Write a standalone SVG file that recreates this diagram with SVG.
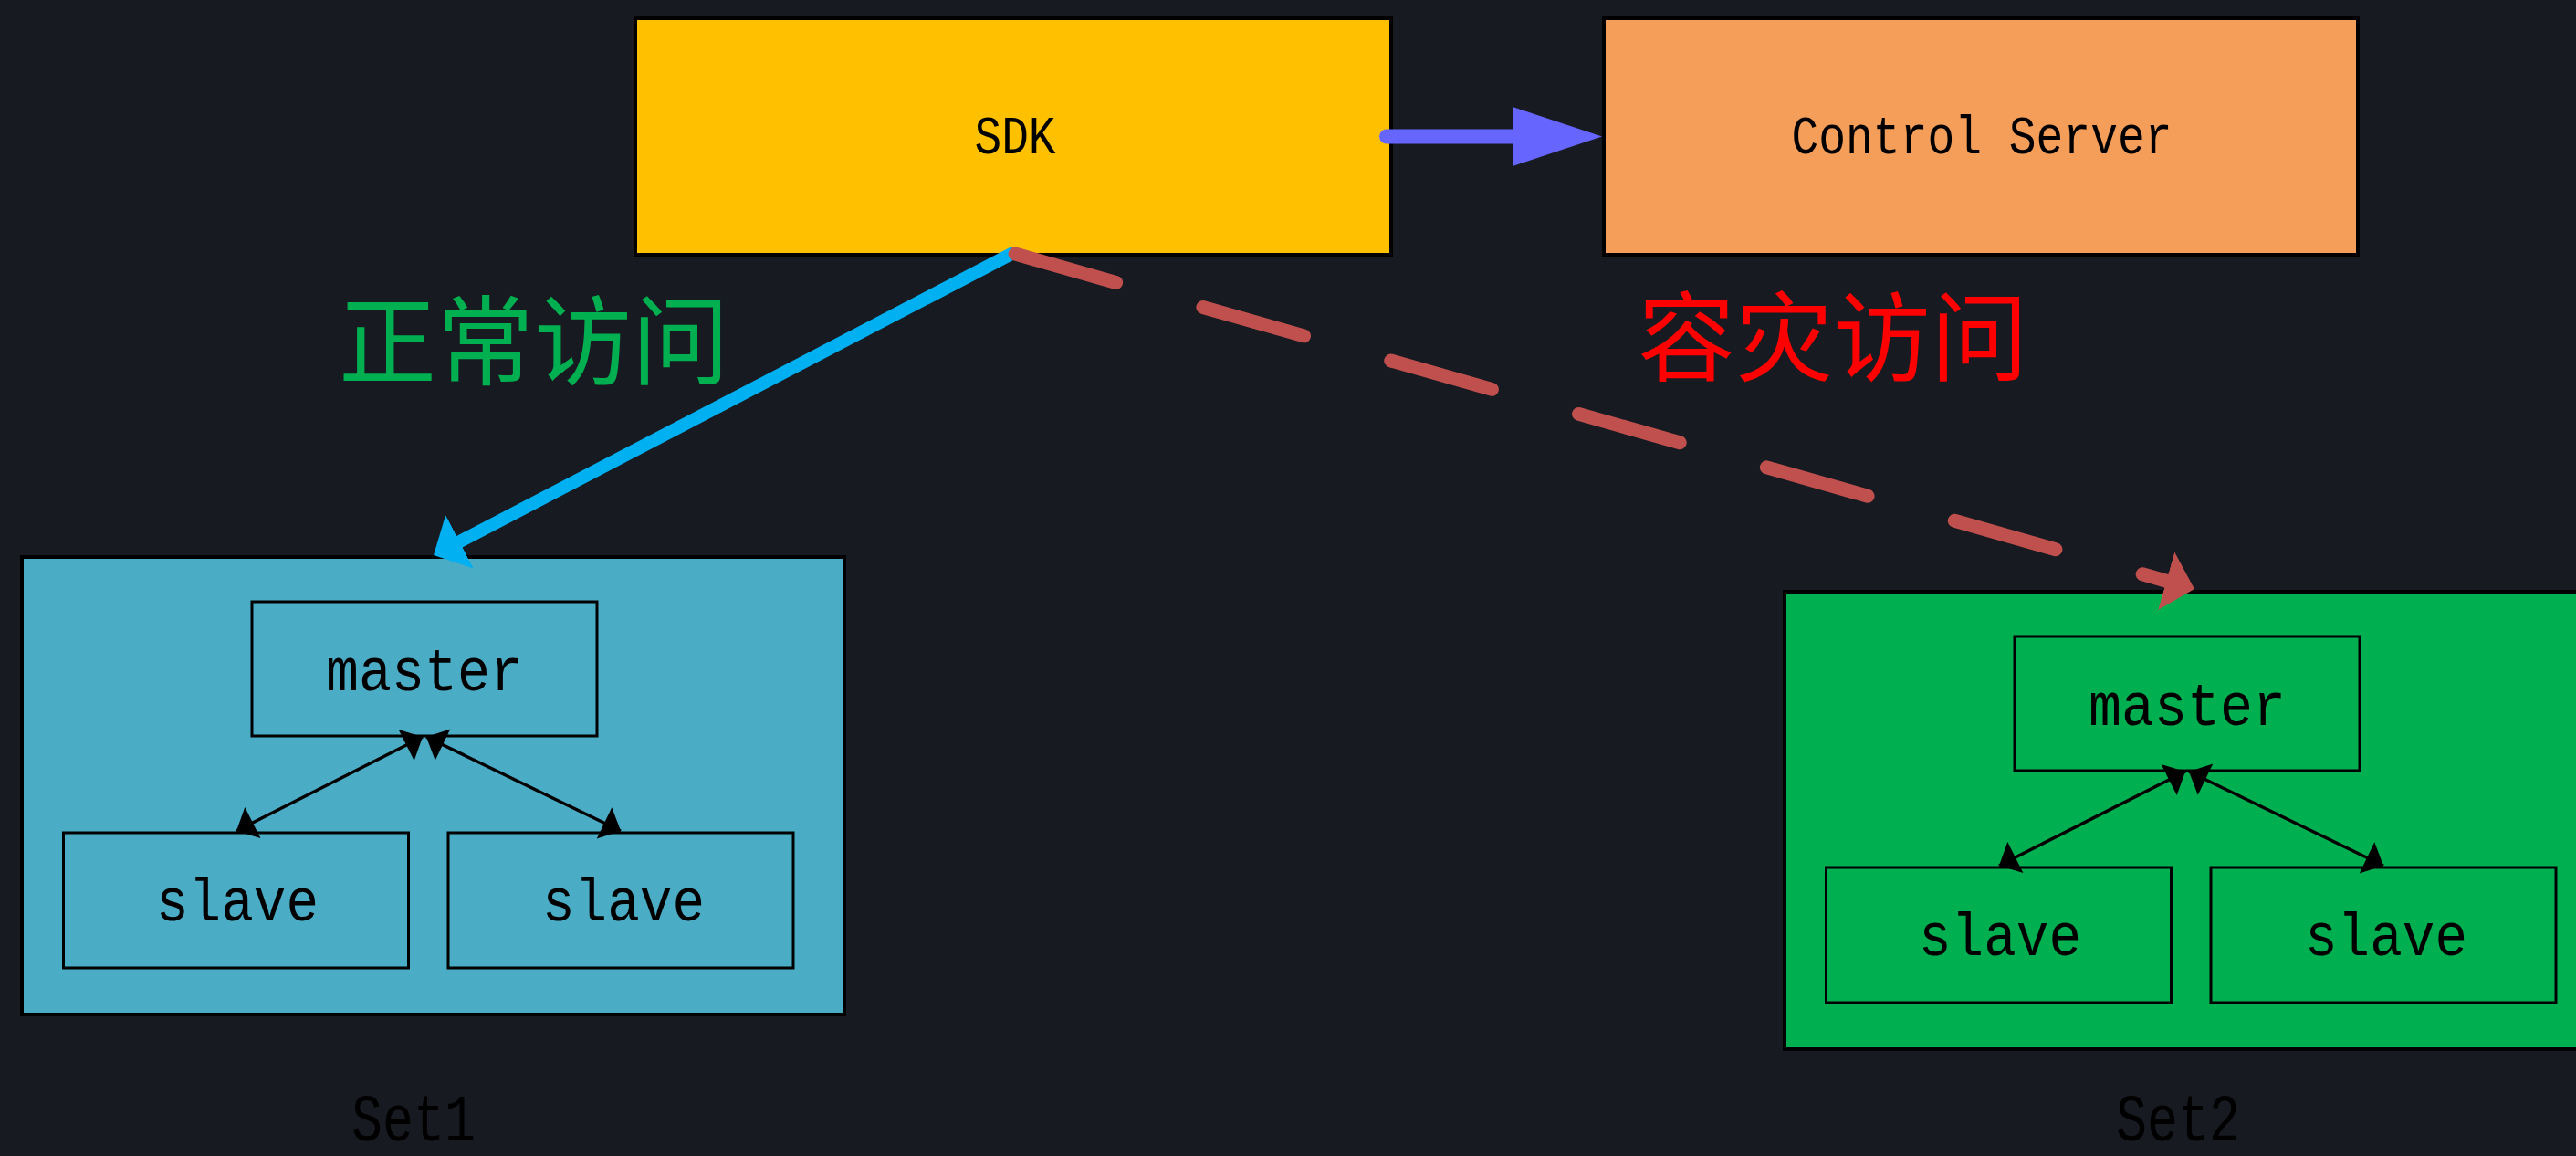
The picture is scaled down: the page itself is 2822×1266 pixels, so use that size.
<svg xmlns="http://www.w3.org/2000/svg" width="2822" height="1266" viewBox="0 0 2822 1266">
  <defs>
    <style>
      .box { stroke: #000; stroke-width: 4; }
      .inner { stroke: #000; stroke-width: 3; }
      .lbl { font-family: "Liberation Mono", "DejaVu Sans Mono", monospace; fill: #000; text-anchor: middle; }
      .big { font-size: 60px; }
      .mid { font-size: 66px; }
      .set { font-size: 72px; }
      .cjk { font-family: "Noto Sans CJK SC", "Noto Sans", sans-serif; font-size: 107px; text-anchor: middle; }
      .rep { stroke: #000; stroke-width: 3.5; fill: none; marker-start: url(#tri-small); marker-end: url(#tri-small); }
    </style>
    <marker id="tri-blue" markerUnits="userSpaceOnUse" viewBox="0 -34 33 68" refX="0" refY="0" markerWidth="33" markerHeight="68" orient="auto">
      <path d="M0,-33 L32,0 L0,33 Z" fill="#00B0F0"/>
    </marker>
    <marker id="tri-red" markerUnits="userSpaceOnUse" viewBox="0 -34 33 68" refX="0" refY="0" markerWidth="33" markerHeight="68" orient="auto">
      <path d="M0,-33 L32,0 L0,33 Z" fill="#C0504D"/>
    </marker>
    <marker id="tri-small" markerUnits="userSpaceOnUse" viewBox="-21 -21 22 42" refX="0" refY="0" markerWidth="22" markerHeight="42" orient="auto-start-reverse">
      <path d="M0,0 L-20,-19 L-20,19 Z" fill="#000"/>
    </marker>
  </defs>

  <rect x="0" y="0" width="2822" height="1266" fill="#171A21"/>

  <g id="node-sdk">
    <rect class="box" x="696" y="20" width="828" height="259" fill="#FFC000"/>
    <text class="lbl big" x="1112" y="168" textLength="89" lengthAdjust="spacingAndGlyphs">SDK</text>
  </g>

  <g id="node-control-server">
    <rect class="box" x="1757" y="20" width="826" height="259" fill="#F59E5A"/>
    <text class="lbl big" x="2171" y="168" textLength="417" lengthAdjust="spacingAndGlyphs">Control Server</text>
  </g>

  <g id="node-set1">
    <rect class="box" x="24" y="610" width="901" height="501" fill="#4BACC6"/>
    <g id="set1-master">
      <rect class="inner" x="276" y="659" width="378" height="147" fill="#4BACC6"/>
      <text class="lbl mid" x="465" y="756" textLength="216" lengthAdjust="spacingAndGlyphs">master</text>
    </g>
    <g id="set1-slave1">
      <rect class="inner" x="69.5" y="912" width="378" height="148" fill="#4BACC6"/>
      <text class="lbl mid" x="260" y="1008" textLength="178" lengthAdjust="spacingAndGlyphs">slave</text>
    </g>
    <g id="set1-slave2">
      <rect class="inner" x="491" y="912" width="378" height="148" fill="#4BACC6"/>
      <text class="lbl mid" x="683" y="1008" textLength="178" lengthAdjust="spacingAndGlyphs">slave</text>
    </g>
    <text class="lbl set" x="453" y="1249" textLength="136" lengthAdjust="spacingAndGlyphs">Set1</text>
  </g>

  <g id="node-set2">
    <rect class="box" x="1955" y="648" width="901" height="501" fill="#00B050"/>
    <g id="set2-master">
      <rect class="inner" x="2207" y="697" width="378" height="147" fill="#00B050"/>
      <text class="lbl mid" x="2396" y="794" textLength="216" lengthAdjust="spacingAndGlyphs">master</text>
    </g>
    <g id="set2-slave1">
      <rect class="inner" x="2000.5" y="950" width="378" height="148" fill="#00B050"/>
      <text class="lbl mid" x="2191" y="1046" textLength="178" lengthAdjust="spacingAndGlyphs">slave</text>
    </g>
    <g id="set2-slave2">
      <rect class="inner" x="2422" y="950" width="378" height="148" fill="#00B050"/>
      <text class="lbl mid" x="2614" y="1046" textLength="178" lengthAdjust="spacingAndGlyphs">slave</text>
    </g>
    <text class="lbl set" x="2386" y="1249" textLength="136" lengthAdjust="spacingAndGlyphs">Set2</text>
  </g>

  <g id="labels">
    <text class="cjk" x="585" y="413" fill="#00B050">正常访问</text>
    <text class="cjk" x="2008" y="409" fill="#FF0000">容灾访问</text>
  </g>

  <g id="connectors">
    <line x1="1519" y1="149.5" x2="1660" y2="149.5" stroke="#6666FF" stroke-width="16" stroke-linecap="round"/>
    <polygon points="1657,117 1755,149.5 1657,182" fill="#6666FF"/>
    <line x1="1110" y1="277" x2="503.4" y2="593.2" stroke="#00B0F0" stroke-width="14" stroke-linecap="round" marker-end="url(#tri-blue)"/>
    <line x1="1112" y1="278" x2="2373.2" y2="636.2" stroke="#C0504D" stroke-width="15" stroke-linecap="round" stroke-dasharray="115 99" marker-end="url(#tri-red)"/>
    <line class="rep" x1="259" y1="910" x2="463" y2="807"/>
    <line class="rep" x1="467" y1="807" x2="680" y2="910"/>
    <line class="rep" x1="2190" y1="948" x2="2394" y2="845"/>
    <line class="rep" x1="2398" y1="845" x2="2611" y2="948"/>
  </g>
</svg>
